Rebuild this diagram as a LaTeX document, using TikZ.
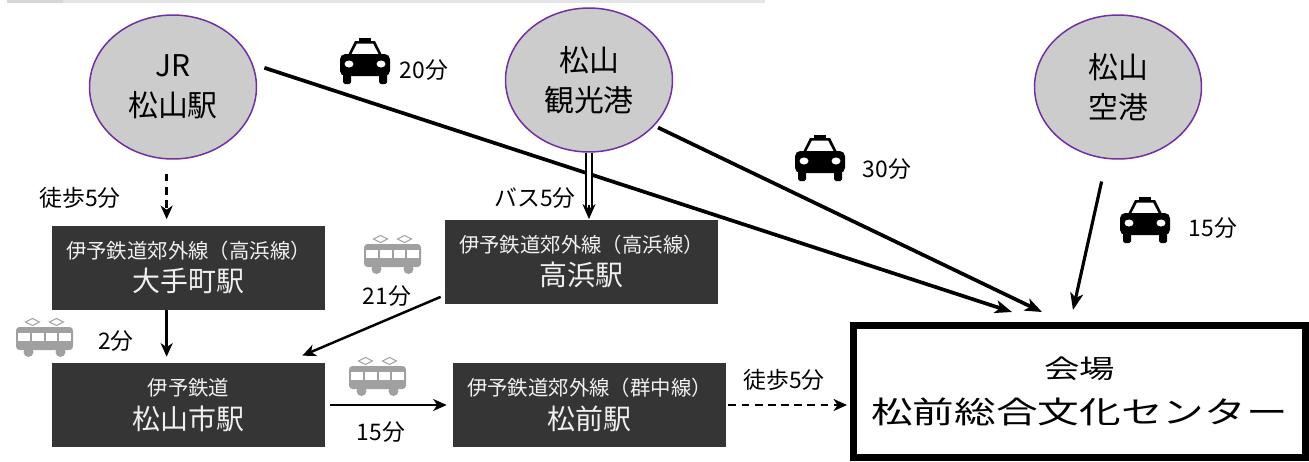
\documentclass[tikz,border=0pt]{standalone}
\usepackage{fontspec}
\setmainfont{Noto Sans CJK JP}
\newfontfamily\venuefont[FakeStretch=1.37]{Noto Sans CJK JP}
\usetikzlibrary{arrows.meta,shapes}

\definecolor{ringpurple}{HTML}{7030A0}
\definecolor{spotgrey}{HTML}{CCCCCC}
\definecolor{boxdark}{HTML}{353535}
\definecolor{tramgrey}{HTML}{A0A0A0}

\newcommand\railname[1]{{\fontsize{11.6}{14}\selectfont #1}}

\tikzset{
  taxi/.pic={
    \fill (-6,-23) rectangle (6,-20);
    \fill (-18,-4) -- (-10,-20) -- (10,-20) -- (18,-4) -- cycle;
    \fill[white] (-14,-6) -- (-8,-17.5) -- (8,-17.5) -- (14,-6) -- cycle;
    \fill[rounded corners=3pt] (-25,-7) rectangle (25,15);
    \fill[white] (-16,3) ellipse [x radius=4.5, y radius=3.5];
    \fill[white] (16,3) ellipse [x radius=4.5, y radius=3.5];
    \fill[rounded corners=1pt] (-22,12) rectangle (-14,23);
    \fill[rounded corners=1pt] (14,12) rectangle (22,23);
  },
  tram/.pic={
    \draw[tramgrey,line width=0.6pt,fill=white] (-19,-16.5) -- (-12,-20) -- (-5,-16.5) -- (-12,-13) -- cycle;
    \draw[tramgrey,line width=0.6pt,fill=white] (5,-16.5) -- (12,-20) -- (19,-16.5) -- (12,-13) -- cycle;
    \fill[tramgrey] (-16,13.5) circle [radius=5];
    \fill[tramgrey] (16,13.5) circle [radius=5];
    \fill[tramgrey,rounded corners=2pt] (-28.5,-11.5) rectangle (28.5,11.5);
    \foreach \wx in {-26.5,-12.75,1,14.75}
      \fill[white] (\wx,-6) rectangle ++(11.75,8);
  }
}

\begin{document}
\begin{tikzpicture}[x=0.02cm,y=-0.02cm,
    spot/.style={shape=ellipse,draw=ringpurple,line width=0.85pt,fill=spotgrey,minimum width=3.34cm,minimum height=2.88cm,inner sep=0pt,align=center,font=\fontsize{17}{22.7}\selectfont},
    station/.style={fill=boxdark,text=white!94!black,minimum width=5.46cm,minimum height=1.68cm,inner sep=0pt,align=center,font=\fontsize{15.9}{19.2}\selectfont},
    venuebox/.style={draw=black,line width=0.14cm,minimum width=9.04cm,minimum height=2.64cm,inner sep=0pt,align=center,font=\venuefont\fontsize{17.3}{25.8}\selectfont},
    lbl/.style={inner sep=0pt,font=\fontsize{13}{15}\selectfont},
    taxiline/.style={-{Stealth[length=0.34cm,width=0.26cm,inset=0.09cm]},line width=2.1pt},
    railline/.style={-{Stealth[length=0.27cm,width=0.24cm,inset=0.08cm]},line width=1.4pt},
    walk/.style={-{Stealth[length=0.27cm,width=0.24cm,inset=0.08cm]},dash pattern=on 4.5pt off 3pt,line width=1.4pt},
    busline/.style={double,line width=1.1pt,double distance=1.8pt},
    bustip/.style={-{Stealth[length=0.3cm,width=0.26cm,inset=0.09cm]},line width=1pt}]
  \useasboundingbox (0,0) rectangle (1309,461);
  % grey strip at the top edge
  \fill[gray!20] (7,0) rectangle (765,3);
  \fill[gray!32] (7,0) rectangle (63,3);

  % where people arrive
  \node[spot](JR)at(173,87){JR\\松山駅};
  \node[spot](port)at(589,80){松山\\観光港};
  \node[spot](airport)at(1118,87){松山\\空港};

  % stations
  \node[station](otemachi)at(188.5,267.5){\railname{伊予鉄道郊外線（高浜線）}\\大手町駅};
  \node[station](takahama)at(581.5,261.5){\railname{伊予鉄道郊外線（高浜線）}\\高浜駅};
  \node[station](matsuyamashi)at(188.5,405){\railname{伊予鉄道}\\松山市駅};
  \node[station](matsumae)at(589.5,405){\railname{伊予鉄道郊外線（群中線）}\\松前駅};

  % venue
  \node[venuebox](venue)at(1079.5,391.5){{\fontsize{14.7}{18}\selectfont 会場}\\松前総合文化センター};
  \coordinate(jrend)at(1012,312);
  \coordinate(portend)at(1042,312);
  \coordinate(airend)at(1073,310);

  % icons
  \pic at(365,61){taxi};
  \pic at(820,158){taxi};
  \pic at(1145,220){taxi};
  \pic at(392.5,255.5){tram};
  \pic at(44.5,338.5){tram};
  \pic at(377.5,377.5){tram};

  % labels
  \node[lbl](walkjr)at(80,198){徒歩5分};
  \node[lbl](bus)at(535,198){バス5分};
  \node[lbl](taxijr)at(424,70){20分};
  \node[lbl](taxiport)at(887,169){30分};
  \node[lbl](taxiair)at(1213,228){15分};
  \node[lbl](railtaka)at(387,296){21分};
  \node[lbl](railote)at(116,341){2分};
  \node[lbl](railmae)at(381,432){15分};
  \node[lbl](walkmae)at(784,380){徒歩5分};

  \path (JR.16) edge[taxiline,shorten <=0.24cm] (jrend)
        (port.-35) edge[taxiline,shorten <=0.08cm] (portend)
        (airport.-99) edge[taxiline,line width=1.8pt,shorten <=0.46cm] (airend)
        (JR.265) edge[walk,shorten <=0.28cm,shorten >=0.12cm] (JR.265 |- otemachi.north)
        (JR.265 |- otemachi.south) edge[railline,shorten >=0.12cm] (JR.265 |- matsuyamashi.north)
        ([xshift=-0.08cm,yshift=0.14cm]takahama.south west) edge[railline] ([xshift=-0.46cm,yshift=0.14cm]matsuyamashi.north east)
        (port.south) edge[busline,shorten >=0.2cm] (port.south |- takahama.north)
        (port.south) edge[bustip,shorten <=1.04cm] (port.south |- takahama.north)
        (matsuyamashi.east) edge[railline,shorten <=0.1cm,shorten >=0.12cm] (matsumae.west)
        (matsumae.east) edge[walk,shorten <=0.04cm,shorten >=0.06cm] (matsumae.east -| venue.west);
\end{tikzpicture}
\end{document}
